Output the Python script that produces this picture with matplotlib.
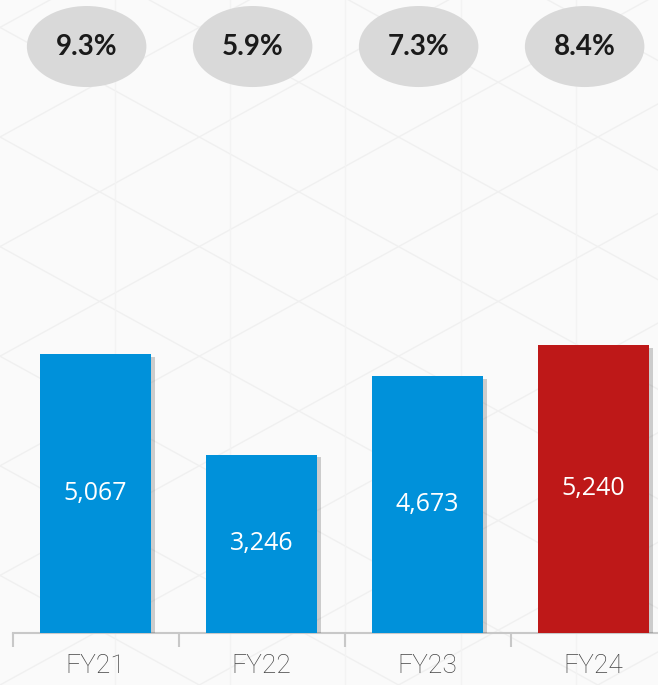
import numpy as np
import matplotlib.pyplot as plt
import matplotlib.patheffects as pe
import matplotlib.transforms as mtransforms
from matplotlib.patches import Ellipse
from matplotlib.lines import Line2D

years = ["FY21", "FY22", "FY23", "FY24"]
values = [5067, 3246, 4673, 5240]
growth = ["9.3%", "5.9%", "7.3%", "8.4%"]
bar_colors = ["#0091DA", "#0091DA", "#0091DA", "#BE1818"]

fig = plt.figure(figsize=(6.58, 6.85), dpi=100)
fig.patch.set_facecolor("#FAFAFA")

# faint triangle pattern in the background
for k in range(-12, 14):
    c = k * 0.16
    xs = np.array([0, 1])
    for slope in (0.55, -0.55):
        fig.add_artist(Line2D(xs, c + slope * xs * 6.58 / 6.85, transform=fig.transFigure,
                              color="#F0F0F0", lw=1.0, zorder=0))
for k in range(1, 8):
    fig.add_artist(Line2D([k * 0.175, k * 0.175], [0, 1], transform=fig.transFigure,
                          color="#F3F3F3", lw=1.0, zorder=0))

ax = fig.add_axes([12.6 / 658, 52 / 685, 1 - 12.6 / 658, 633 / 685])
ax.set_facecolor("none")

x = np.arange(len(years))
bars = ax.bar(x, values, width=0.67, color=bar_colors, zorder=3)
for b in bars:
    b.set_path_effects([pe.SimplePatchShadow(offset=(3, -2), shadow_rgbFace="#444444", alpha=0.25),
                        pe.Normal()])

for xi, v in zip(x, values):
    ax.text(xi, v / 2, f"{v:,}", ha="center", va="center", color="white",
            fontsize=18, family="Open Sans", zorder=4)

for s in ("top", "right", "left"):
    ax.spines[s].set_visible(False)
ax.spines["bottom"].set_color("#C8C8C8")
ax.spines["bottom"].set_linewidth(1.5)
ax.set_yticks([])
ax.set_xticks(x)
ax.set_xticklabels(years, fontsize=19, family="Roboto", fontweight="light", color="#444444")
ax.tick_params(axis="x", which="major", length=0, pad=15)
ax.set_xticks(np.arange(-0.5, 3.6, 1.0), minor=True)
ax.tick_params(axis="x", which="minor", length=10, width=1.5, color="#C8C8C8")

ax.set_xlim(-0.5, -0.5 + 645.4 / 166)
ax.set_ylim(0, 633 * 18.19)

trans = mtransforms.blended_transform_factory(ax.transData, ax.transAxes)
for xi, g in zip(x, growth):
    ax.add_patch(Ellipse((xi - 0.054, 0.9265), 0.72, 0.128, transform=trans,
                         facecolor="#D9D9D9", edgecolor="none", zorder=3, clip_on=False))
    ax.text(xi - 0.054, 0.9265, g, transform=trans, ha="center", va="center",
            fontsize=20, fontweight="bold", family="Lato", color="#1A1A1A", zorder=4)

fig.savefig("out.png", dpi=100, facecolor=fig.get_facecolor())
